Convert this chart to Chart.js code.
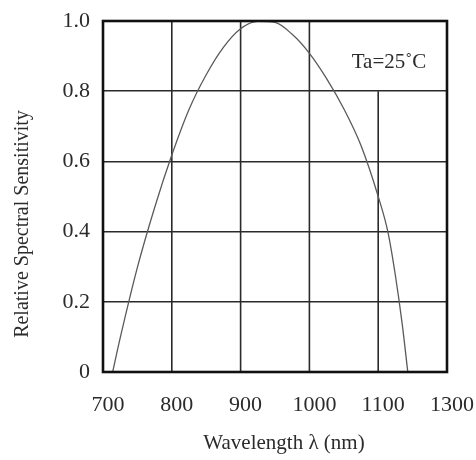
<!DOCTYPE html>
<html>
<head>
<meta charset="utf-8">
<script src="https://cdn.jsdelivr.net/npm/chart.js@4/dist/chart.umd.min.js"></script>
<style>
  html, body { margin: 0; padding: 0; background: #fff; }
  #wrap { width: 476px; height: 460px; }
</style>
</head>
<body>
<div id="wrap"><canvas id="myChart"></canvas></div>
<script>
// curve: wavelength (nm) -> relative sensitivity
const wavelengths = [714, 725, 750, 775, 800, 825, 850, 875, 900, 925, 950, 975, 1000, 1025, 1050, 1075, 1100, 1114, 1125, 1135, 1143];
const sensitivity = [0, 0.097, 0.298, 0.468, 0.618, 0.748, 0.847, 0.925, 0.978, 0.999, 0.996, 0.962, 0.908, 0.836, 0.75, 0.645, 0.5, 0.4, 0.275, 0.135, 0];

// axes
const xTickValues = [700, 800, 900, 1000, 1100, 1200];
const xTickLabels = ['700', '800', '900', '1000', '1100', '1300'];
const xGridTop = [1, 1, 1, 1, 0.8, 1]; // the 1100 line stops under the Ta box
const yTickLabels = ['0', '0.2', '0.4', '0.6', '0.8', '1.0'];

const xTitle = 'Wavelength \u03BB (nm)';
const yTitle = 'Relative Spectral Sensitivity';
const noteText = 'Ta=25\u02DAC';

const serif = '"Liberation Serif", "Times New Roman", serif';
const ink = '#2a2a2a';

Chart.defaults.font.family = serif;
Chart.defaults.color = '#2b2b2b';

const frame = {
  id: 'frame',
  beforeDatasetsDraw(chart) {
    const { ctx, chartArea: a, scales } = chart;
    ctx.save();
    ctx.strokeStyle = ink;
    ctx.lineWidth = 1.6;
    xTickValues.forEach((v, i) => {
      if (i === 0 || i === xTickValues.length - 1) return;
      const x = scales.x.getPixelForValue(v);
      ctx.beginPath();
      ctx.moveTo(x, scales.y.getPixelForValue(xGridTop[i]));
      ctx.lineTo(x, a.bottom);
      ctx.stroke();
    });
    ctx.restore();
  },
  afterDatasetsDraw(chart) {
    const { ctx, chartArea: a } = chart;
    ctx.save();
    ctx.strokeStyle = '#111';
    ctx.lineWidth = 2.6;
    ctx.strokeRect(a.left, a.top, a.right - a.left, a.bottom - a.top);
    ctx.restore();
  },
  afterDraw(chart) {
    const { ctx, chartArea: a } = chart;
    ctx.save();
    ctx.fillStyle = '#2b2b2b';
    ctx.textAlign = 'center';
    ctx.textBaseline = 'middle';
    ctx.font = '21px ' + serif;
    ctx.fillText(xTitle, a.left + (a.right - a.left) / 2 + 9, 443);
    ctx.fillText(noteText, a.right - 58, a.top + 41);
    ctx.translate(23, 224);
    ctx.rotate(-Math.PI / 2);
    ctx.font = '20px ' + serif;
    ctx.fillText(yTitle, 0, 0);
    ctx.restore();
  }
};

new Chart(document.getElementById('myChart'), {
  type: 'line',
  data: {
    datasets: [{
      data: wavelengths.map((w, i) => ({ x: w, y: sensitivity[i] })),
      borderColor: '#5a5a5a',
      borderWidth: 1.3,
      pointRadius: 0,
      fill: false,
      cubicInterpolationMode: 'monotone'
    }]
  },
  options: {
    responsive: true,
    maintainAspectRatio: false,
    animation: false,
    layout: { padding: { top: 21, right: 29, left: 0, bottom: 0 } },
    plugins: { legend: { display: false }, tooltip: { enabled: false } },
    scales: {
      x: {
        type: 'linear',
        min: 700,
        max: 1200,
        afterBuildTicks: (s) => { s.ticks = xTickValues.map(v => ({ value: v })); },
        afterFit: (s) => { s.height = 88; s.paddingLeft = 0; s.paddingRight = 0; },
        grid: { display: false },
        border: { display: false },
        ticks: {
          padding: 12,
          labelOffset: 5,
          maxRotation: 0,
          autoSkip: false,
          font: { size: 22 },
          callback: (v, i) => xTickLabels[i]
        }
      },
      y: {
        min: 0,
        max: 1,
        afterBuildTicks: (s) => { s.ticks = yTickLabels.map((t, i) => ({ value: i * 0.2 })); },
        afterFit: (s) => { s.width = 103; s.paddingTop = 0; s.paddingBottom = 0; },
        grid: { color: ink, lineWidth: 1.6, drawTicks: false },
        border: { display: false },
        ticks: {
          padding: 13,
          font: { size: 22 },
          callback: (v, i) => yTickLabels[i]
        }
      }
    }
  },
  plugins: [frame]
});
</script>
</body>
</html>
